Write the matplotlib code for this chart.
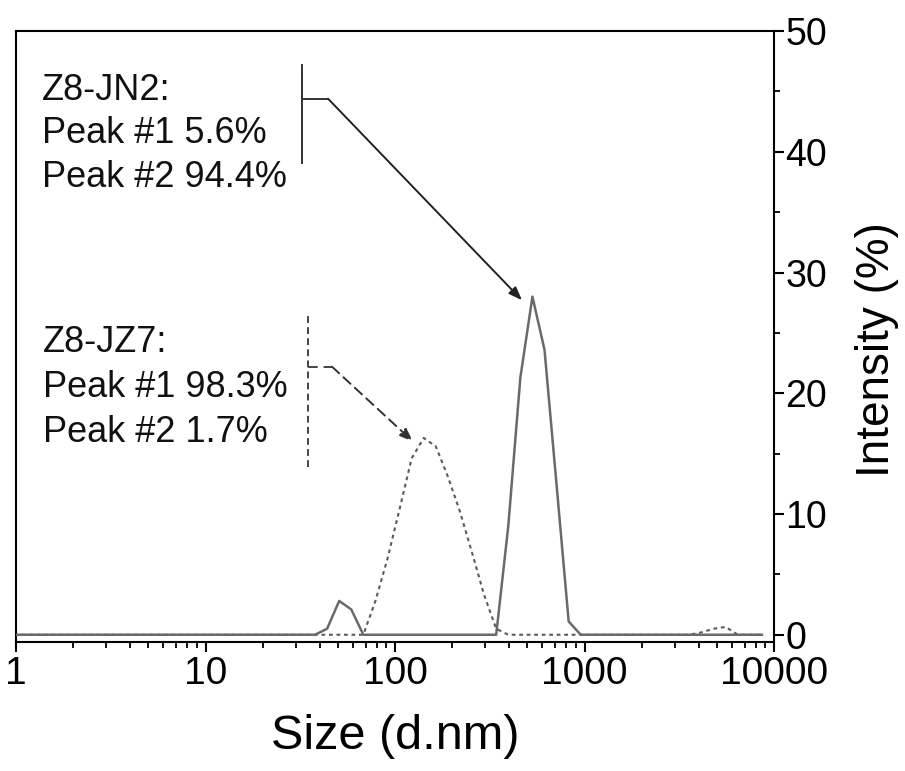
import matplotlib
matplotlib.use("Agg")
import matplotlib.pyplot as plt
from matplotlib.ticker import LogLocator, FixedLocator, NullFormatter

plt.rcParams['font.family'] = ['Liberation Sans', 'DejaVu Sans']

# Size bins (d.nm)
size_nm = [0.4000, 0.4632, 0.5365, 0.6213, 0.7195, 0.8332, 0.9649, 1.117, 1.294, 1.499,
           1.736, 2.010, 2.328, 2.696, 3.122, 3.615, 4.187, 4.849, 5.615, 6.503,
           7.531, 8.721, 10.10, 11.70, 13.54, 15.69, 18.17, 21.04, 24.36, 28.21,
           32.67, 37.84, 43.82, 50.75, 58.77, 68.06, 78.82, 91.28, 105.7, 122.4,
           141.8, 164.2, 190.1, 220.2, 255.0, 295.3, 342.0, 396.1, 458.7, 531.2,
           615.1, 712.4, 825.0, 955.4, 1106, 1281, 1484, 1718, 1990, 2305,
           2669, 3091, 3580, 4145, 4801, 5560, 6439, 7456, 8635]

# Intensity (%) for Z8-JN2 (solid)
jn2 = [0, 0, 0, 0, 0, 0, 0, 0, 0, 0,
       0, 0, 0, 0, 0, 0, 0, 0, 0, 0,
       0, 0, 0, 0, 0, 0, 0, 0, 0, 0,
       0, 0, 0.5, 2.8, 2.1, 0, 0, 0, 0, 0,
       0, 0, 0, 0, 0, 0, 0, 9.0, 21.3, 28.0,
       23.6, 12.4, 1.1, 0, 0, 0, 0, 0, 0, 0,
       0, 0, 0, 0, 0, 0, 0, 0, 0]

# Intensity (%) for Z8-JZ7 (dotted)
jz7 = [0, 0, 0, 0, 0, 0, 0, 0, 0, 0,
       0, 0, 0, 0, 0, 0, 0, 0, 0, 0,
       0, 0, 0, 0, 0, 0, 0, 0, 0, 0,
       0, 0, 0, 0, 0, 0, 2.8, 6.3, 10.4, 14.6,
       16.3, 15.6, 13.1, 10.2, 6.8, 3.3, 0.5, 0, 0, 0,
       0, 0, 0, 0, 0, 0, 0, 0, 0, 0,
       0, 0, 0, 0.2, 0.5, 0.65, 0, 0, 0]

x_ticks = [1, 10, 100, 1000, 10000]
x_ticklabels = ["1", "10", "100", "1000", "10000"]
y_ticks = [0, 10, 20, 30, 40, 50]

jn2_lines = ["Z8-JN2:", "Peak #1 5.6%", "Peak #2 94.4%"]
jz7_lines = ["Z8-JZ7:", "Peak #1 98.3%", "Peak #2 1.7%"]

W, H = 905, 771
fig = plt.figure(figsize=(W / 100, H / 100), dpi=100)
ax = fig.add_axes([16 / W, 1 - 642 / H, (774 - 16) / W, (642 - 31) / H])

ax.plot(size_nm, jz7, color='#5a5a5a', lw=1.5, linestyle=(0, (1.8, 1.8)), zorder=2)
ax.plot(size_nm, jn2, color='#6a6a6a', lw=1.8, zorder=3)

ax.set_xscale('log')
ax.set_xlim(1, 10000)
ax.set_ylim(-0.6, 50)

ax.set_xticks(x_ticks)
ax.set_xticklabels(x_ticklabels)
ax.xaxis.set_minor_locator(LogLocator(base=10, subs=range(2, 10)))
ax.xaxis.set_minor_formatter(NullFormatter())

ax.yaxis.tick_right()
ax.yaxis.set_label_position('right')
ax.set_yticks(y_ticks)
ax.yaxis.set_minor_locator(FixedLocator([5, 15, 25, 35, 45]))

for s in ax.spines.values():
    s.set_linewidth(1.5)
    s.set_color('black')

ax.tick_params(axis='x', which='major', direction='out', length=7, width=1.5,
               labelsize=28, pad=3, top=False)
ax.tick_params(axis='x', which='minor', direction='out', length=4, width=1.3, top=False)
ax.tick_params(axis='y', which='major', direction='out', length=7, width=1.5,
               labelsize=27, pad=1, left=False, right=True)
ax.tick_params(axis='y', which='minor', direction='out', length=4, width=1.3,
               left=False, right=True)

ax.set_xlabel("Size (d.nm)", fontsize=35, labelpad=16)
ax.set_ylabel("Intensity (%)", fontsize=33, labelpad=20)
ax.yaxis.label.set_y(0.478)

# Annotation texts
for txt, yv in zip(jn2_lines, [44.3, 40.7, 37.1]):
    ax.text(1.37, yv, txt, fontsize=26, va='baseline', ha='left', color='#111111')
for txt, yv in zip(jz7_lines, [23.4, 19.7, 16.0]):
    ax.text(1.38, yv, txt, fontsize=26, va='baseline', ha='left', color='#111111')

# JN2 bracket + arrow (solid)
ax.plot([32.3, 32.3], [39.1, 47.2], color='#333333', lw=1.4)
ax.plot([32.3, 44.3], [44.4, 44.4], color='#333333', lw=1.4)
ax.annotate("", xy=(468, 27.7), xytext=(44.3, 44.4),
            arrowprops=dict(arrowstyle='-|>,head_length=0.8,head_width=0.3',
                            color='#222222', lw=1.4, shrinkA=0, shrinkB=0))

# JZ7 bracket + arrow (dashed)
ax.plot([34.7, 34.7], [13.9, 26.7], color='#444444', lw=1.4, linestyle=(0, (3.5, 2.2)))
ax.plot([34.7, 46.5], [22.2, 22.2], color='#444444', lw=1.4, linestyle=(0, (5, 3)))
ax.annotate("", xy=(124.5, 16.0), xytext=(46.5, 22.2),
            arrowprops=dict(arrowstyle='-|>,head_length=0.8,head_width=0.3',
                            color='#333333', lw=1.4, linestyle=(0, (5, 3)),
                            shrinkA=0, shrinkB=0))

fig.savefig("out.png", dpi=100)
